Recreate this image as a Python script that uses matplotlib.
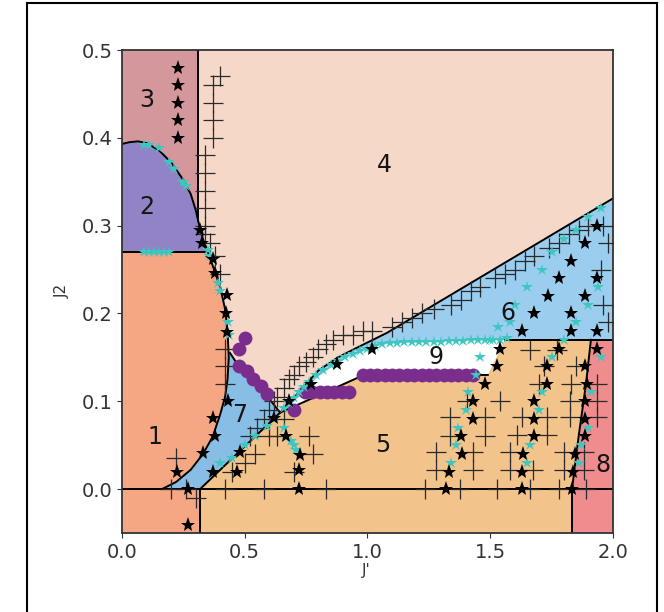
import matplotlib
matplotlib.use("Agg")
import matplotlib.pyplot as plt
from matplotlib.patches import Polygon
from matplotlib.lines import Line2D

# ---------------- data ----------------
# phase boundary curve (region 1/2 vs others), J' , J2
curveA_x = [0.0, 0.03, 0.065, 0.10, 0.15, 0.20, 0.25, 0.28, 0.30, 0.315, 0.33, 0.35, 0.375, 0.40, 0.42, 0.43, 0.435, 0.43, 0.42, 0.40, 0.37, 0.33, 0.28, 0.22, 0.163]
curveA_y = [0.393, 0.395, 0.396, 0.394, 0.386, 0.372, 0.352, 0.336, 0.318, 0.30, 0.285, 0.27, 0.25, 0.23, 0.205, 0.18, 0.15, 0.125, 0.105, 0.085, 0.06, 0.04, 0.022, 0.008, 0.0]

# region polygons
reg3_x = [0.0, 0.31, 0.31, 0.0]
reg3_y = [0.5, 0.5, 0.27, 0.27]
reg2_x = [0.0, 0.03, 0.065, 0.10, 0.15, 0.20, 0.25, 0.28, 0.30, 0.315, 0.33, 0.35, 0.0]
reg2_y = [0.393, 0.395, 0.396, 0.394, 0.386, 0.372, 0.352, 0.336, 0.318, 0.30, 0.285, 0.27, 0.27]
reg1_x = [0.0, 0.318, 0.318, 0.163, 0.22, 0.28, 0.33, 0.37, 0.40, 0.42, 0.43, 0.435, 0.43, 0.42, 0.40, 0.375, 0.35, 0.0]
reg1_y = [-0.05, -0.05, 0.0, 0.0, 0.008, 0.022, 0.04, 0.06, 0.085, 0.105, 0.125, 0.15, 0.18, 0.205, 0.23, 0.25, 0.27, 0.27]
reg5_x = [0.318, 1.833, 1.833, 1.86, 1.89, 1.91, 1.56, 1.49, 0.97, 0.644, 0.318]
reg5_y = [-0.05, -0.05, 0.0, 0.06, 0.12, 0.17, 0.17, 0.13, 0.128, 0.087, 0.0]
reg8_x = [1.833, 2.0, 2.0, 1.91, 1.89, 1.86, 1.833]
reg8_y = [-0.05, -0.05, 0.17, 0.17, 0.12, 0.06, 0.0]
reg7_x = [0.163, 0.22, 0.28, 0.33, 0.37, 0.40, 0.42, 0.43, 0.435, 0.44, 0.48, 0.53, 0.58, 0.644, 0.318, 0.25]
reg7_y = [0.0, 0.008, 0.022, 0.04, 0.06, 0.085, 0.105, 0.125, 0.15, 0.155, 0.138, 0.125, 0.11, 0.087, 0.0, 0.0]
reg6_x = [0.644, 0.72, 0.80, 0.88, 0.95, 1.08, 2.0, 2.0, 1.56, 1.30, 1.06, 0.95, 0.88, 0.80, 0.72]
reg6_y = [0.087, 0.11, 0.135, 0.15, 0.16, 0.178, 0.331, 0.17, 0.17, 0.168, 0.165, 0.155, 0.144, 0.128, 0.105]
reg9_x = [0.644, 0.72, 0.80, 0.88, 0.95, 1.06, 1.30, 1.56, 1.49, 0.97]
reg9_y = [0.087, 0.105, 0.128, 0.144, 0.155, 0.165, 0.168, 0.17, 0.13, 0.128]

# black boundary lines
lineTop_x = [0.644, 0.72, 0.80, 0.88, 0.95, 1.08, 2.0]
lineTop_y = [0.087, 0.11, 0.135, 0.15, 0.16, 0.178, 0.331]
line7_x = [0.318, 0.644, 0.58, 0.53, 0.48, 0.44]
line7_y = [0.0, 0.087, 0.11, 0.125, 0.138, 0.155]
line9_x = [0.644, 0.97, 1.49]
line9_y = [0.087, 0.128, 0.13]
line8_x = [1.833, 1.833, 1.86, 1.89, 1.91]
line8_y = [-0.05, 0.0, 0.06, 0.12, 0.17]

# black stars
bstar_x = [0.23, 0.23, 0.23, 0.23, 0.23,
           0.318, 0.325, 0.37, 0.38, 0.427, 0.423, 0.427, 0.43, 0.372, 0.38, 0.33, 0.223, 0.27, 0.27,
           0.37, 0.47, 0.48, 0.62, 0.67, 0.725, 0.72, 0.72,
           0.77, 0.875, 1.02, 0.68,
           1.32, 1.33, 1.385, 1.38, 1.43, 1.43, 1.48, 1.527, 1.54, 1.63, 1.68, 1.735, 1.78, 1.83, 1.886, 1.935,
           1.63, 1.63, 1.634, 1.68, 1.68, 1.68, 1.73, 1.73, 1.78, 1.83, 1.83, 1.886, 1.935,
           1.833, 1.837, 1.845, 1.886, 1.886, 1.886, 1.894, 1.886, 1.935, 1.935]
bstar_y = [0.48, 0.46, 0.44, 0.42, 0.40,
           0.295, 0.28, 0.262, 0.246, 0.221, 0.20, 0.179, 0.10, 0.081, 0.06, 0.041, 0.02, 0.0, -0.041,
           0.019, 0.019, 0.042, 0.081, 0.06, 0.039, 0.022, 0.0,
           0.12, 0.143, 0.16, 0.10,
           0.0, 0.02, 0.04, 0.06, 0.08, 0.10, 0.12, 0.14, 0.16, 0.18, 0.20, 0.22, 0.24, 0.26, 0.28, 0.30,
           0.0, 0.02, 0.04, 0.06, 0.08, 0.10, 0.12, 0.14, 0.16, 0.18, 0.20, 0.22, 0.24,
           0.0, 0.02, 0.04, 0.06, 0.08, 0.10, 0.12, 0.14, 0.16, 0.18]

# cyan stars
cstar_x = [0.09, 0.11, 0.13, 0.15, 0.17, 0.19,
           0.09, 0.11, 0.15, 0.19, 0.21, 0.25, 0.26,
           0.35, 0.36, 0.39, 0.40, 0.43, 0.435,
           0.40, 0.45, 0.50, 0.54, 0.59, 0.62,
           0.66, 0.69, 0.70, 0.71,
           0.66, 0.68, 0.70, 0.72, 0.74, 0.76, 0.79, 0.82, 0.85, 0.88, 0.91, 0.94, 0.97, 1.00, 1.03, 1.06,
           1.09, 1.12, 1.15, 1.18, 1.21, 1.24, 1.27, 1.30, 1.33, 1.36, 1.39, 1.42, 1.45, 1.48, 1.51, 1.54, 1.57,
           1.34, 1.36, 1.37, 1.40, 1.41, 1.44, 1.46, 1.50, 1.53, 1.58, 1.60, 1.65, 1.71, 1.75, 1.80, 1.85, 1.90, 1.95,
           1.65, 1.66, 1.70, 1.71, 1.75, 1.80, 1.85, 1.90, 1.94,
           1.86, 1.87, 1.90, 1.91, 1.95]
cstar_y = [0.27, 0.27, 0.27, 0.27, 0.27, 0.27,
           0.392, 0.392, 0.388, 0.372, 0.365, 0.35, 0.345,
           0.272, 0.265, 0.235, 0.225, 0.19, 0.175,
           0.03, 0.035, 0.05, 0.06, 0.072, 0.08,
           0.07, 0.055, 0.05, 0.045,
           0.092, 0.098, 0.104, 0.11, 0.116, 0.122, 0.13, 0.136, 0.141, 0.146, 0.15, 0.154, 0.157, 0.16, 0.163, 0.165,
           0.166, 0.166, 0.167, 0.167, 0.167, 0.168, 0.168, 0.168, 0.169, 0.169, 0.169, 0.17, 0.17, 0.17, 0.17, 0.17, 0.172,
           0.03, 0.05, 0.07, 0.09, 0.11, 0.13, 0.15, 0.17, 0.185, 0.19, 0.21, 0.23, 0.25, 0.27, 0.285, 0.295, 0.31, 0.32,
           0.03, 0.05, 0.09, 0.11, 0.15, 0.17, 0.19, 0.21, 0.23,
           0.03, 0.05, 0.07, 0.11, 0.15]

# purple circles
purple_x = [0.50, 0.475, 0.475, 0.51, 0.535, 0.565, 0.59, 0.70,
            0.745, 0.775, 0.805, 0.835, 0.865, 0.895, 0.925,
            0.98, 1.01, 1.04, 1.07, 1.10, 1.13, 1.16, 1.19, 1.22, 1.25, 1.28, 1.31, 1.34, 1.37, 1.40, 1.43]
purple_y = [0.172, 0.16, 0.14, 0.135, 0.125, 0.117, 0.108, 0.09,
            0.11, 0.11, 0.11, 0.11, 0.11, 0.11, 0.11,
            0.13, 0.13, 0.13, 0.13, 0.13, 0.13, 0.13, 0.13, 0.13, 0.13, 0.13, 0.13, 0.13, 0.13, 0.13, 0.13]

# plus markers
plus_x = [0.40, 0.37, 0.37, 0.37, 0.37, 0.34, 0.34, 0.34, 0.34, 0.34, 0.34, 0.36, 0.38, 0.40,
          0.42, 0.42, 0.42, 0.22, 0.20, 0.26, 0.30,
          0.42, 0.50, 0.45, 0.54, 0.52, 0.55, 0.58, 0.60, 0.63, 0.66, 0.58, 0.70, 0.78, 0.76, 0.83, 0.62,
          0.60, 0.63, 0.66, 0.68, 0.70, 0.72, 0.75, 0.78, 0.80, 0.83, 0.86, 0.90, 0.94, 0.98, 1.02,
          1.10, 1.14, 1.18, 1.22, 1.27, 1.34, 1.38, 1.42, 1.46, 1.52, 1.56, 1.60, 1.64, 1.68, 1.74, 1.78, 1.82, 1.86, 1.90,
          1.96, 1.98, 1.96, 1.98, 1.95,
          1.235, 1.377, 1.527, 1.28, 1.43, 1.28, 1.43, 1.336, 1.48, 1.336, 1.48, 1.405, 1.54,
          1.58, 1.58, 1.61, 1.63, 1.73, 1.73, 1.675, 1.66, 1.70,
          1.80, 1.88, 1.80, 1.88, 1.825, 1.935, 1.825, 1.935, 1.83, 1.935, 1.89, 1.78,
          1.66, 1.77, 1.72, 1.85]
plus_y = [0.47, 0.46, 0.44, 0.42, 0.40, 0.38, 0.36, 0.34, 0.32, 0.30, 0.29, 0.28, 0.265, 0.245,
          0.16, 0.14, 0.12, 0.035, 0.0, 0.0, -0.01,
          0.0, 0.03, 0.02, 0.04, 0.06, 0.07, 0.08, 0.06, 0.06, 0.08, 0.0, 0.02, 0.04, 0.06, 0.0, 0.10,
          0.09, 0.105, 0.115, 0.125, 0.13, 0.14, 0.145, 0.15, 0.16, 0.165, 0.17, 0.175, 0.175, 0.18, 0.18,
          0.185, 0.19, 0.195, 0.20, 0.205, 0.21, 0.215, 0.225, 0.23, 0.24, 0.245, 0.25, 0.26, 0.265, 0.275, 0.28, 0.29, 0.295, 0.30,
          0.30, 0.28, 0.21, 0.19, 0.25,
          0.0, 0.0, 0.0, 0.042, 0.042, 0.022, 0.022, 0.082, 0.082, 0.06, 0.06, 0.10, 0.10,
          0.022, 0.042, 0.062, 0.082, 0.082, 0.062, 0.022, 0.0, 0.12,
          0.022, 0.022, 0.042, 0.042, 0.082, 0.082, 0.10, 0.10, 0.12, 0.12, 0.0, 0.0,
          0.158, 0.158, 0.14, 0.14]

labels = ["1", "2", "3", "4", "5", "6", "7", "8", "9"]
label_x = [0.134, 0.10, 0.10, 1.07, 1.063, 1.57, 0.48, 1.96, 1.28]
label_y = [0.059, 0.321, 0.443, 0.369, 0.05, 0.20, 0.084, 0.027, 0.15]

xticks = [0.0, 0.5, 1.0, 1.5, 2.0]
yticks = [0.0, 0.1, 0.2, 0.3, 0.4, 0.5]

# ---------------- plot ----------------
fig = plt.figure(figsize=(6.64, 6.12), dpi=100)
ax = fig.add_axes([0.1837, 0.1291, 0.7395, 0.7892])
ax.set_xlim(0, 2.0)
ax.set_ylim(-0.05, 0.5)
ax.set_facecolor("#F6D8C8")

def poly(xs, ys, color):
    ax.add_patch(Polygon(list(zip(xs, ys)), closed=True, facecolor=color, edgecolor="none", zorder=1))

poly(reg3_x, reg3_y, "#D4979C")
poly(reg2_x, reg2_y, "#9283C6")
poly(reg1_x, reg1_y, "#F5A682")
poly(reg5_x, reg5_y, "#F2C48C")
poly(reg8_x, reg8_y, "#EE8C8E")
poly(reg7_x, reg7_y, "#88BDE6")
poly(reg6_x, reg6_y, "#9ACDEE")
poly(reg9_x, reg9_y, "#FFFFFF")

lk = dict(color="black", lw=1.4, zorder=2)
ax.plot(curveA_x, curveA_y, **lk)
ax.plot([0.31, 0.31], [0.5, 0.305], **lk)
ax.plot([0.0, 0.345], [0.27, 0.27], **lk)
ax.plot([0.0, 2.0], [0.0, 0.0], **lk)
ax.plot([0.318, 0.318], [-0.05, 0.0], **lk)
ax.plot(lineTop_x, lineTop_y, **lk)
ax.plot(line7_x, line7_y, **lk)
ax.plot(line9_x, line9_y, **lk)
ax.plot(line8_x, line8_y, **lk)
ax.plot([1.56, 2.0], [0.17, 0.17], **lk)

ax.plot(plus_x, plus_y, linestyle="none", marker="+", markersize=14, markeredgewidth=0.9,
        color="#2a2a2a", zorder=3)
ax.plot(purple_x, purple_y, linestyle="none", marker="o", markersize=10, color="#7B2D8E",
        markeredgewidth=0, zorder=4)
ax.plot(cstar_x, cstar_y, linestyle="none", marker="*", markersize=9, color="#3EC6C0",
        markeredgewidth=0, zorder=5)
ax.plot(bstar_x, bstar_y, linestyle="none", marker="*", markersize=11, color="black",
        markeredgewidth=0, zorder=6)

for t, x, y in zip(labels, label_x, label_y):
    ax.text(x, y, t, fontsize=17, ha="center", va="center", color="#151515", zorder=7)

ax.set_xticks(xticks)
ax.set_yticks(yticks)
ax.set_xticklabels([f"{v:.1f}" for v in xticks])
ax.set_yticklabels([f"{v:.1f}" for v in yticks])
ax.tick_params(labelsize=14, colors="#333333", labelcolor="#333333")
for s in ax.spines.values():
    s.set_color("#333333")
    s.set_linewidth(1.3)

fig.text(62 / 664, 1 - 291 / 612, "J2", rotation=90, fontsize=11, ha="center", va="center", color="#333333")
fig.text(366 / 664, 1 - 571 / 612, "J'", fontsize=11, ha="center", va="center", color="#333333")

# outer frame
for xs, ys in [([0.0407, 0.9895], [0.995, 0.995]), ([0.0407, 0.0407], [0.0, 0.995]), ([0.9895, 0.9895], [0.0, 0.995])]:
    fig.add_artist(Line2D(xs, ys, color="black", lw=1.5, transform=fig.transFigure))

fig.savefig("out.png", dpi=100)
